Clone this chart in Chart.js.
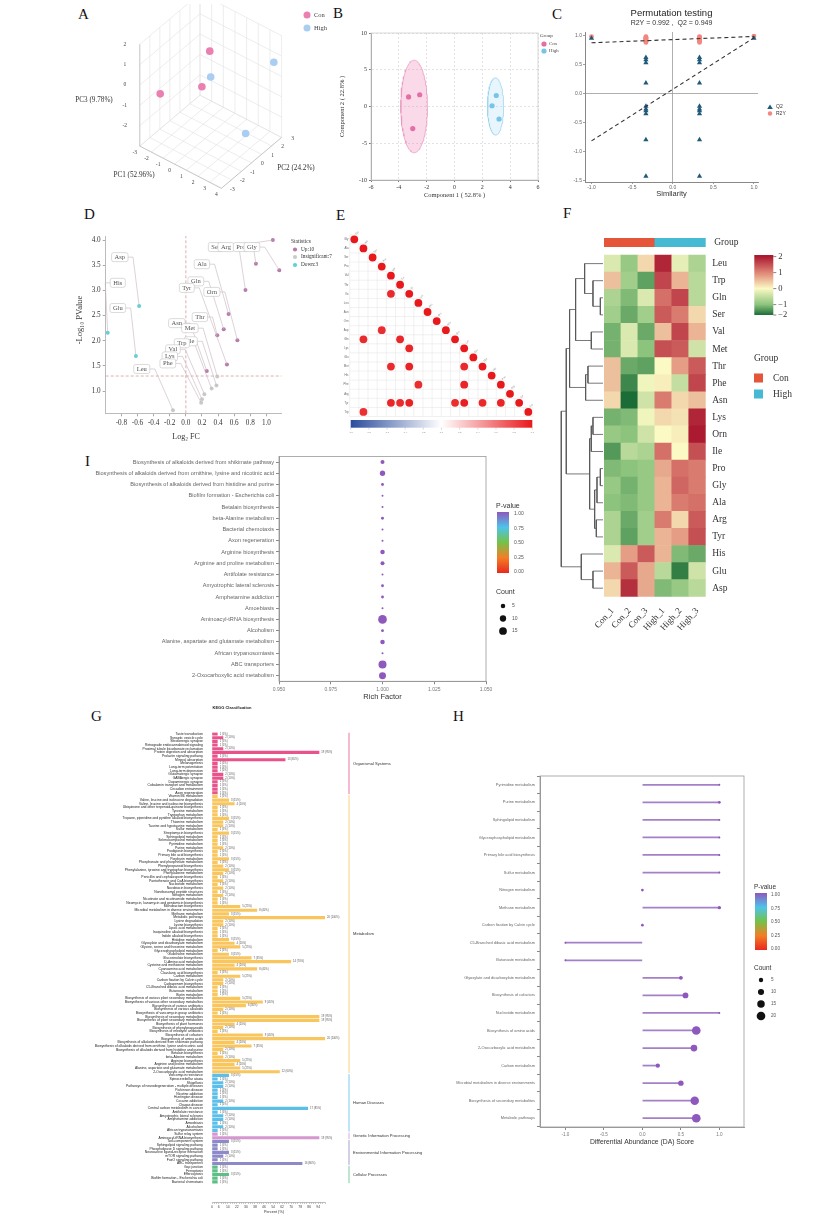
<!DOCTYPE html>
<html>
<head>
<meta charset="utf-8">
<title>Amino acid metabolomics figure</title>
<script src="https://cdn.jsdelivr.net/npm/chart.js@4.4.1/dist/chart.umd.min.js"></script>
<style>
  html, body { margin: 0; padding: 0; background: #fff; }
  body { position: relative; width: 827px; height: 1220px; overflow: hidden; }
  canvas { position: absolute; }
  .tag { position: absolute; font: 15px "Liberation Serif", "Times New Roman", serif; color: #111; }
</style>
</head>
<body>
<div class="tag" style="left:78px;top:6px">A</div>
<div class="tag" style="left:333px;top:5px">B</div>
<div class="tag" style="left:552px;top:6px">C</div>
<div class="tag" style="left:84px;top:206px">D</div>
<div class="tag" style="left:336px;top:207px">E</div>
<div class="tag" style="left:563px;top:205px">F</div>
<div class="tag" style="left:85px;top:453px">I</div>
<div class="tag" style="left:91px;top:708px">G</div>
<div class="tag" style="left:453px;top:708px">H</div>
<script>
const SERIF = '"Liberation Serif", "Times New Roman", serif';
const SANS = '"Liberation Sans", Arial, sans-serif';
Chart.defaults.animation = false;
Chart.defaults.responsive = false;
Chart.defaults.font.family = SANS;
Chart.defaults.plugins.legend.display = false;
Chart.defaults.plugins.tooltip.enabled = false;

// ---------- A: PCA scores (PC1, PC2, PC3)
const pcaCon  = [[-2.28, -1.8, -0.72], [-1.13, 1.8, 0.22], [-0.77, 0.6, -0.92]];
const pcaHigh = [[0.5, 0.0, 0.18], [3.85, 2.4, 0.9], [2.98, 0.6, -2.11]];
const pc1Ticks = [-3, -2, -1, 0, 1, 2, 3, 4];
const pc2Ticks = [-3, -2, -1, 0, 1, 2, 3];
const pc3Ticks = [-3, -2, -1, 0, 1, 2];
const pc3Labels = [-2, -1, 0, 1, 2];

// ---------- B: PLS-DA scores and confidence ellipses
const plsCon  = [[-3.3, 1.3], [-2.5, 1.6], [-3.0, -3.0]];
const plsHigh = [[2.7, 0.1], [3.0, 1.5], [3.2, -1.7]];
const ellCenter = [[-2.9, 0], [2.95, 0]];
const ellRadius = [[0.96, 6.3], [0.58, 3.9]];

// ---------- C: permutation test
const permSim = [-1.0, -0.33, -0.33, -0.33, -0.33, -0.33, -0.33, -0.33, -0.33, -0.33, -0.33,
  0.33, 0.33, 0.33, 0.33, 0.33, 0.33, 0.33, 0.33, 0.33, 0.33, 1.0];
const permR2Y = [0.98, 0.98, 0.97, 0.96, 0.95, 0.94, 0.93, 0.92, 0.91, 0.90, 0.88,
  0.98, 0.97, 0.96, 0.95, 0.94, 0.93, 0.92, 0.91, 0.90, 0.88, 0.99];
const permQ2 = [0.95, 0.62, 0.58, 0.53, 0.18, -0.22, -0.27, -0.30, -0.35, -0.80, -1.43,
  0.62, 0.58, 0.53, 0.18, -0.22, -0.27, -0.30, -0.35, -0.80, -1.43, 0.95];
const r2yFit = [[-1, 0.874], [1, 0.983]];
const q2Fit = [[-1, -0.82], [1, 0.96]];

// ---------- D: volcano
const aaNames = ['Ser', 'Arg', 'Pro', 'Gly', 'Ala', 'Gln', 'Orn', 'Tyr', 'Thr', 'Asn',
  'Met', 'Ile', 'Trp', 'Val', 'Lys', 'Phe', 'Leu', 'Asp', 'His', 'Glu'];
const log2FC = [1.08, 0.74, 0.87, 1.16, 0.53, 0.47, 0.64, 0.51, 0.39, 0.26,
  0.39, 0.38, 0.32, 0.23, 0.20, 0.19, -0.16, -0.58, -0.97, -0.62];
const negLogP = [4.00, 3.01, 3.53, 3.40, 2.53, 2.23, 2.01, 1.53, 2.11, 1.40,
  1.29, 1.11, 1.05, 0.94, 0.84, 0.77, 0.62, 2.69, 2.16, 1.70];
const fcCut = 0, pCut = 1.3;
// where each text label sits (in axis units)
const labelAt = [[0.37, 3.86], [0.497, 3.86], [0.683, 3.86], [0.82, 3.86], [0.199, 3.52],
  [0.124, 3.18], [0.323, 2.97], [0.012, 3.05], [0.174, 2.47], [-0.112, 2.35],
  [0.05, 2.25], [0.062, 1.99], [-0.05, 1.95], [-0.161, 1.83], [-0.199, 1.69],
  [-0.224, 1.55], [-0.547, 1.44], [-0.82, 3.66], [-0.845, 3.15], [-0.845, 2.65]];

// ---------- E: correlation (lower triangle, significant only)
const corrVars = ['Gly', 'Ala', 'Ser', 'Pro', 'Val', 'Thr', 'Ile', 'Leu', 'Asn', 'Orn',
  'Asp', 'Gln', 'Lys', 'Glu', 'Met', 'His', 'Phe', 'Arg', 'Tyr', 'Trp'];
const corrRow = [0, 1, 2, 3, 4, 5, 6, 7, 8, 9, 10, 11, 12, 13, 14, 15, 16, 17, 18, 19,
  6, 10, 11, 11, 12, 14, 14, 14, 16, 16, 18, 18, 18, 18, 18, 18, 18, 19];
const corrCol = [0, 1, 2, 3, 4, 5, 6, 7, 8, 9, 10, 11, 12, 13, 14, 15, 16, 17, 18, 19,
  4, 3, 1, 5, 6, 4, 6, 12, 7, 12, 4, 5, 6, 11, 12, 14, 16, 1];
const corrR = [1, 1, 1, 1, 1, 1, 1, 1, 1, 1, 1, 1, 1, 1, 1, 1, 1, 1, 1, 1,
  0.93, 0.91, 0.92, 0.94, 0.95, 0.92, 0.96, 0.93, 0.91, 0.95, 0.94, 0.92, 0.96, 0.91, 0.97, 0.93, 0.95, 0.90];
const corrBarTicks = [-1, -0.8, -0.6, -0.4, -0.2, 0, 0.2, 0.4, 0.6, 0.8, 1];

// ---------- F: heatmap (z-scores)
const heatRows = ['Leu', 'Trp', 'Gln', 'Ser', 'Val', 'Met', 'Thr', 'Phe', 'Asn', 'Lys',
  'Orn', 'Ile', 'Pro', 'Gly', 'Ala', 'Arg', 'Tyr', 'His', 'Glu', 'Asp'];
const heatSamples = ['Con_1', 'Con_2', 'Con_3', 'High_1', 'High_2', 'High_3'];
const sampleGroup = ['Con', 'Con', 'Con', 'High', 'High', 'High'];
const heatZ = [
  [-0.3, -0.9, 0.3, 1.9, -0.2, -0.7],
  [0.5, -0.8, -1.4, 1.6, 0.6, -0.6],
  [-0.7, -1.1, -0.3, 1.2, 1.6, -0.6],
  [-0.8, -1.3, -0.8, 1.4, 1.1, 0.3],
  [-1.2, -0.3, -1.3, 0.5, 1.6, 0.6],
  [-1.2, -0.3, -1.0, 1.5, 1.4, -0.4],
  [0.5, -1.3, -1.4, 0.0, 0.8, 1.4],
  [0.5, -1.7, -0.1, 0.1, -0.5, 1.6],
  [0.3, -2.0, -0.4, 1.1, 0.3, 0.5],
  [-1.2, -1.1, -0.1, 0.3, 0.2, 1.9],
  [-0.9, -1.0, -0.4, 0.0, 0.1, 2.0],
  [-1.5, -0.6, -0.7, 1.2, 0.0, 1.5],
  [-1.1, -1.0, -0.9, 0.7, 1.2, 1.1],
  [-0.9, -1.2, -0.9, 0.6, 1.3, 1.1],
  [-1.0, -1.1, -0.9, 0.6, 1.1, 1.2],
  [-0.7, -1.3, -0.8, 1.1, 0.3, 1.4],
  [-0.7, -1.4, -0.8, 0.6, 0.8, 1.5],
  [-0.3, 0.8, 1.4, 0.6, -1.1, -1.3],
  [0.6, 1.4, 0.7, -0.6, -1.8, -0.4],
  [0.3, 1.8, 0.7, -1.1, -0.9, -0.6]
];
// hclust-style merges: negative = leaf (1-based row), positive = earlier merge; third = height
const dendroMerge = [
  [-3, -4, 0.64], [-13, -14, 0.64], [2, -15, 1.44], [-16, -17, 1.6], [3, 4, 2.0],
  [-2, 1, 2.4], [-10, -11, 2.4], [-19, -20, 2.4], [-5, -6, 2.8], [7, -12, 2.8],
  [10, 5, 3.2], [-7, -8, 3.6], [12, -9, 4.16], [-1, 6, 4.4], [-18, 8, 5.2],
  [14, 9, 6.56], [16, 13, 8.0], [17, 11, 8.8], [18, 15, 10]
];
const heatLegendTicks = [2, 1, 0, -1, -2];

// ---------- I: KEGG enrichment bubbles
const iPaths = ['Biosynthesis of alkaloids derived from shikimate pathway',
  'Biosynthesis of alkaloids derived from ornithine, lysine and nicotinic acid',
  'Biosynthesis of alkaloids derived from histidine and purine',
  'Biofilm formation - Escherichia coli', 'Betalain biosynthesis', 'beta-Alanine metabolism',
  'Bacterial chemotaxis', 'Axon regeneration', 'Arginine biosynthesis', 'Arginine and proline metabolism',
  'Antifolate resistance', 'Amyotrophic lateral sclerosis', 'Amphetamine addiction', 'Amoebiasis',
  'Aminoacyl-tRNA biosynthesis', 'Alcoholism', 'Alanine, aspartate and glutamate metabolism',
  'African trypanosomiasis', 'ABC transporters', '2-Oxocarboxylic acid metabolism'];
const iRich = [1, 1, 1, 1, 1, 1, 1, 1, 1, 1, 1, 1, 1, 1, 1, 1, 1, 1, 1, 1];
const iCount = [4, 7, 2, 1, 1, 2, 1, 1, 5, 4, 1, 2, 2, 1, 19, 2, 5, 1, 16, 12];
const iP = [1, 1, 1, 1, 1, 1, 1, 1, 1, 1, 1, 1, 1, 1, 1, 1, 1, 1, 1, 1];
const iCountLegend = [5, 10, 15];

// ---------- G: KEGG classification
const gPaths = [
  // Organismal Systems
  'Taste transduction', 'Synaptic vesicle cycle', 'Serotonergic synapse', 'Retrograde endocannabinoid signaling',
  'Proximal tubule bicarbonate reclamation', 'Protein digestion and absorption', 'Prolactin signaling pathway',
  'Mineral absorption', 'Melanogenesis', 'Long-term potentiation', 'Long-term depression', 'Glutamatergic synapse',
  'GABAergic synapse', 'Dopaminergic synapse', 'Cobalamin transport and metabolism', 'Circadian entrainment',
  'Axon regeneration',
  // Metabolism
  'Vitamin B6 metabolism', 'Valine, leucine and isoleucine degradation', 'Valine, leucine and isoleucine biosynthesis',
  'Ubiquinone and other terpenoid-quinone biosynthesis', 'Tyrosine metabolism', 'Tryptophan metabolism',
  'Tropane, piperidine and pyridine alkaloid biosynthesis', 'Thiamine metabolism', 'Taurine and hypotaurine metabolism',
  'Sulfur metabolism', 'Streptomycin biosynthesis', 'Sphingolipid metabolism', 'Selenocompound metabolism',
  'Pyrimidine metabolism', 'Purine metabolism', 'Prodigiosin biosynthesis', 'Primary bile acid biosynthesis',
  'Porphyrin metabolism', 'Phosphonate and phosphinate metabolism', 'Phenylpropanoid biosynthesis',
  'Phenylalanine, tyrosine and tryptophan biosynthesis', 'Phenylalanine metabolism',
  'Penicillin and cephalosporin biosynthesis', 'Pantothenate and CoA biosynthesis', 'Nucleotide metabolism',
  'Novobiocin biosynthesis', 'Nonribosomal peptide structures', 'Nitrogen metabolism',
  'Nicotinate and nicotinamide metabolism', 'Neomycin, kanamycin and gentamicin biosynthesis',
  'Monobactam biosynthesis', 'Microbial metabolism in diverse environments', 'Methane metabolism',
  'Metabolic pathways', 'Lysine degradation', 'Lysine biosynthesis', 'Lipoic acid metabolism',
  'Isoquinoline alkaloid biosynthesis', 'Indole alkaloid biosynthesis', 'Histidine metabolism',
  'Glyoxylate and dicarboxylate metabolism', 'Glycine, serine and threonine metabolism',
  'Glycerophospholipid metabolism', 'Glutathione metabolism', 'Glucosinolate biosynthesis',
  'D-Amino acid metabolism', 'Cysteine and methionine metabolism', 'Cyanoamino acid metabolism',
  'Clavulanic acid biosynthesis', 'Carbon metabolism', 'Carbon fixation by Calvin cycle', 'Carbapenem biosynthesis',
  'C5-Branched dibasic acid metabolism', 'Butanoate metabolism', 'Biotin metabolism',
  'Biosynthesis of various plant secondary metabolites', 'Biosynthesis of various other secondary metabolites',
  'Biosynthesis of various antibiotics', 'Biosynthesis of various alkaloids',
  'Biosynthesis of vancomycin group antibiotics', 'Biosynthesis of secondary metabolites',
  'Biosynthesis of plant secondary metabolites', 'Biosynthesis of plant hormones',
  'Biosynthesis of phenylpropanoids', 'Biosynthesis of enediyne antibiotics', 'Biosynthesis of cofactors',
  'Biosynthesis of amino acids', 'Biosynthesis of alkaloids derived from shikimate pathway',
  'Biosynthesis of alkaloids derived from ornithine, lysine and nicotinic acid',
  'Biosynthesis of alkaloids derived from histidine and purine', 'Betalain biosynthesis', 'beta-Alanine metabolism',
  'Arginine biosynthesis', 'Arginine and proline metabolism', 'Alanine, aspartate and glutamate metabolism',
  '2-Oxocarboxylic acid metabolism',
  // Human Diseases
  'Vancomycin resistance', 'Spinocerebellar ataxia', 'Shigellosis', 'Pathways of neurodegeneration - multiple diseases',
  'Parkinson disease', 'Nicotine addiction', 'Huntington disease', 'Cocaine addiction', 'Chagas disease',
  'Central carbon metabolism in cancer', 'Antifolate resistance', 'Amyotrophic lateral sclerosis',
  'Amphetamine addiction', 'Amoebiasis', 'Alcoholism', 'African trypanosomiasis',
  // Genetic Information Processing
  'Sulfur relay system', 'Aminoacyl-tRNA biosynthesis',
  // Environmental Information Processing
  'Two-component system', 'Sphingolipid signaling pathway', 'Phospholipase D signaling pathway',
  'Neuroactive ligand-receptor interaction', 'mTOR signaling pathway', 'FoxO signaling pathway', 'ABC transporters',
  // Cellular Processes
  'Gap junction', 'Ferroptosis', 'Efferocytosis', 'Biofilm formation - Escherichia coli', 'Bacterial chemotaxis'
];
const gCounts = [
  1, 2, 1, 1, 2, 19, 1, 13, 1, 1, 1, 2, 2, 1, 1, 1, 1,
  1, 3, 4, 1, 1, 1, 3, 2, 2, 1, 3, 1, 1, 1, 2, 1, 1, 3, 1, 2, 3, 2, 1, 2, 1, 2, 1, 2, 1, 1,
  5, 8, 3, 20, 2, 2, 1, 1, 1, 3, 4, 5, 1, 3, 7, 14, 4, 8, 1, 5, 2, 2, 1, 1, 1,
  5, 9, 6, 2, 1, 19, 19, 4, 2, 1, 9, 20, 4, 7, 2, 1, 2, 5, 4, 5, 12,
  3, 1, 2, 2, 1, 1, 1, 2, 1, 17, 1, 2, 2, 1, 2, 1,
  1, 19,
  3, 1, 1, 3, 2, 1, 16,
  1, 1, 3, 1, 1
];
const gTotal = 20;
const gClassNames = ['Organismal Systems', 'Metabolism', 'Human Diseases', 'Genetic Information Processing',
  'Environmental Information Processing', 'Cellular Processes'];
const gClassSize = [17, 76, 16, 2, 7, 5];
const gClassColor = ['#e9538b', '#f9c65e', '#5cbfe9', '#d597cf', '#8e89c8', '#5dbf86'];
const gTickLabels = [0, 6, 14, 22, 30, 38, 46, 54, 62, 70, 78, 86, 94];

// ---------- H: differential abundance score
const hPaths = ['Pyrimidine metabolism', 'Purine metabolism', 'Sphingolipid metabolism',
  'Glycerophospholipid metabolism', 'Primary bile acid biosynthesis', 'Sulfur metabolism',
  'Nitrogen metabolism', 'Methane metabolism', 'Carbon fixation by Calvin cycle',
  'C5-Branched dibasic acid metabolism', 'Butanoate metabolism', 'Glyoxylate and dicarboxylate metabolism',
  'Biosynthesis of cofactors', 'Nucleotide metabolism', 'Biosynthesis of amino acids',
  '2-Oxocarboxylic acid metabolism', 'Carbon metabolism', 'Microbial metabolism in diverse environments',
  'Biosynthesis of secondary metabolites', 'Metabolic pathways'];
const hScore = [1, 1, 1, 1, 1, 1, 0, 1, 0, -1, -1, 0.5, 0.56, 1, 0.7, 0.67, 0.2, 0.5, 0.68, 0.7];
const hCount = [1, 2, 1, 1, 1, 1, 2, 3, 2, 1, 1, 4, 9, 1, 20, 12, 5, 8, 19, 20];
const hP = [1, 1, 1, 1, 1, 1, 1, 1, 1, 1, 1, 1, 1, 1, 1, 1, 1, 1, 1, 1];
const hCountLegend = [5, 10, 15, 20];
const pLegendTicks = [1.0, 0.75, 0.5, 0.25, 0.0];

// ---------- colour scales
const pStops = [[0, '#e8291f'], [0.25, '#f47d27'], [0.5, '#74c247'], [0.75, '#4dc4ea'], [1, '#8e58bd']];
const corrStops = [[-1, '#2a4c9c'], [0, '#ffffff'], [1, '#e8191c']];
const heatStops = [[-2, '#1b6d37'], [-1, '#8cc37d'], [0, '#fbf9c4'], [1, '#df8676'], [2, '#ab1a30']];
const groupColor = { Con: '#e4553a', High: '#46b9d3' };

// ---------- helpers
function mk(x, y, w, h) {
  const c = document.createElement('canvas');
  c.width = w; c.height = h;
  c.style.left = x + 'px'; c.style.top = y + 'px';
  c.style.width = w + 'px'; c.style.height = h + 'px';
  document.body.appendChild(c);
  return c;
}
function txt(g, s, x, y, o = {}) {
  g.save();
  g.font = (o.weight || 'normal') + ' ' + (o.size || 7) + 'px ' + (o.family || SANS);
  g.fillStyle = o.color || '#333';
  g.textAlign = o.align || 'left';
  g.textBaseline = o.base || 'middle';
  g.translate(x, y);
  if (o.rot) g.rotate(o.rot);
  g.fillText(s, 0, 0);
  g.restore();
}
function hex2rgb(h) { const n = parseInt(h.slice(1), 16); return [n >> 16 & 255, n >> 8 & 255, n & 255]; }
function ramp(stops, v) {
  if (v <= stops[0][0]) return stops[0][1];
  for (let i = 1; i < stops.length; i++) {
    if (v <= stops[i][0]) {
      const [a, ca] = stops[i - 1], [b, cb] = stops[i], t = (v - a) / (b - a);
      const A = hex2rgb(ca), B = hex2rgb(cb);
      return 'rgb(' + A.map((x, k) => Math.round(x + (B[k] - x) * t)).join(',') + ')';
    }
  }
  return stops[stops.length - 1][1];
}
function gradBar(g, stops, x, y, w, h, vertical, lo, hi) {
  const gr = vertical ? g.createLinearGradient(0, y + h, 0, y) : g.createLinearGradient(x, 0, x + w, 0);
  stops.forEach(([v, c]) => gr.addColorStop(Math.min(1, Math.max(0, (v - lo) / (hi - lo))), c));
  g.fillStyle = gr; g.fillRect(x, y, w, h);
}
// fixes the plot rectangle inside a canvas of W x H
function area(W, H, l, t, r, b) {
  return {
    padding: { left: 0, top: t, right: W - r, bottom: 0 },
    fx: s => { s.height = H - b; },
    fy: s => { s.width = l; }
  };
}
const boxPlugin = col => ({
  id: 'panelBox',
  afterDraw(c) {
    const a = c.chartArea, g = c.ctx;
    g.save(); g.strokeStyle = col; g.lineWidth = 0.8;
    g.strokeRect(a.left, a.top, a.right - a.left, a.bottom - a.top);
    g.restore();
  }
});
function dot(g, x, y, r, col) { g.save(); g.fillStyle = col; g.beginPath(); g.arc(x, y, r, 0, Math.PI * 2); g.fill(); g.restore(); }

// ================= A =================
(() => {
  const W = 280, H = 200;
  const a0 = pc1Ticks[0], a1 = pc1Ticks[pc1Ticks.length - 1];
  const b0 = pc2Ticks[0], b1 = pc2Ticks[pc2Ticks.length - 1];
  const c0 = pc3Ticks[0], c1 = pc3Ticks[pc3Ticks.length - 1];
  // oblique view of the 3D box
  const P = (a, b, c) => {
    const u = (a - a0) / (a1 - a0), v = (b - b0) / (b1 - b0), w = (c - c0) / (c1 - c0);
    return { x: 78 + 84 * u + 62 * v, y: 148 + 44 * u - 53 * v - 106 * w };
  };
  const segs = [];
  pc1Ticks.forEach(t => segs.push([P(t, b0, c0), P(t, b1, c0)], [P(t, b1, c0), P(t, b1, c1)]));
  pc2Ticks.forEach(t => segs.push([P(a0, t, c0), P(a1, t, c0)], [P(a0, t, c0), P(a0, t, c1)]));
  pc3Ticks.forEach(t => segs.push([P(a0, b0, t), P(a0, b1, t)], [P(a0, b1, t), P(a1, b1, t)]));
  const edges = [[P(a0, b0, c0), P(a1, b0, c0)], [P(a1, b0, c0), P(a1, b1, c0)], [P(a0, b0, c0), P(a0, b0, c1)]];
  const line = (d, col, w) => ({ data: d, showLine: true, borderColor: col, borderWidth: w, pointRadius: 0 });
  new Chart(mk(60, 0, W, H), {
    type: 'scatter',
    data: { datasets: [
      { data: pcaCon.map(p => P(...p)), pointRadius: 3.8, backgroundColor: '#ea7fb0', borderWidth: 0 },
      { data: pcaHigh.map(p => P(...p)), pointRadius: 3.8, backgroundColor: '#a9cef2', borderWidth: 0 },
      ...edges.map(s => line(s, '#b8b8b8', 0.7)),
      ...segs.map(s => line(s, '#e0e0e0', 0.6))
    ]},
    options: {
      layout: { padding: 0 },
      scales: { x: { display: false, min: 0, max: W }, y: { display: false, min: 0, max: H, reverse: true } }
    },
    plugins: [{
      id: 'pcaText',
      afterDraw(c) {
        const g = c.ctx, X = v => c.scales.x.getPixelForValue(v), Y = v => c.scales.y.getPixelForValue(v);
        const o = { family: SERIF, size: 5.5, color: '#444', align: 'center' };
        pc1Ticks.forEach(t => { const p = P(t, b0, c0); txt(g, String(t), X(p.x) - 5, Y(p.y) + 6, o); });
        pc2Ticks.forEach(t => { const p = P(a1, t, c0); txt(g, String(t), X(p.x) + 11, Y(p.y) + 1, o); });
        pc3Labels.forEach(t => { const p = P(a0, b0, t); txt(g, String(t), X(p.x) - 15, Y(p.y), o); });
        const t = { family: SERIF, size: 7.2, color: '#333', align: 'center' };
        txt(g, 'PC3 (9.78%)', 34, 100, t);
        txt(g, 'PC1 (52.96%)', 74, 175, t);
        txt(g, 'PC2 (24.2%)', 236, 168, t);
        const ds = c.data.datasets;
        [['Con', ds[0].backgroundColor, 15], ['High', ds[1].backgroundColor, 28]].forEach(([s, col, y]) => {
          dot(g, 247, y, 3.5, col);
          txt(g, s, 254, y, { family: SERIF, size: 6.5, color: '#444' });
        });
      }
    }]
  });
})();

// ================= B =================
(() => {
  const W = 245, H = 200, A = area(W, H, 41, 33, 208, 180);
  const ellipse = k => {
    const pts = [];
    for (let i = 0; i <= 90; i++) {
      const t = i / 90 * 2 * Math.PI;
      pts.push({ x: ellCenter[k][0] + ellRadius[k][0] * Math.cos(t), y: ellCenter[k][1] + ellRadius[k][1] * Math.sin(t) });
    }
    return pts;
  };
  const tk = { font: { family: SERIF, size: 6 }, color: '#333', padding: 2 };
  const grid = { color: '#e3e3e3', tickColor: '#777', tickLength: 2 };
  new Chart(mk(330, 0, W, H), {
    type: 'scatter',
    data: { datasets: [
      { data: plsCon.map(([x, y]) => ({ x, y })), pointRadius: 2.6, backgroundColor: '#e46fa6', borderWidth: 0 },
      { data: plsHigh.map(([x, y]) => ({ x, y })), pointRadius: 2.6, backgroundColor: '#74c5e9', borderWidth: 0 },
      { data: ellipse(0), showLine: true, fill: 'shape', backgroundColor: 'rgba(236,120,175,0.28)', borderColor: '#e893bb', borderWidth: 0.7, pointRadius: 0 },
      { data: ellipse(1), showLine: true, fill: 'shape', backgroundColor: 'rgba(150,210,240,0.22)', borderColor: '#95d2ec', borderWidth: 0.7, pointRadius: 0 }
    ]},
    options: {
      layout: { padding: A.padding },
      scales: {
        x: { min: -6, max: 6, afterFit: A.fx, ticks: { ...tk, stepSize: 2 }, grid, border: { color: '#999', dash: [2, 2] } },
        y: { min: -10, max: 10, afterFit: A.fy, ticks: { ...tk, stepSize: 5 }, grid, border: { color: '#999', dash: [2, 2] } }
      }
    },
    plugins: [boxPlugin('#d0d0d0'), {
      id: 'plsText',
      afterDraw(c) {
        const g = c.ctx, a = c.chartArea;
        txt(g, 'Component 1 ( 52.8% )', (a.left + a.right) / 2, 195, { family: SERIF, size: 6.5, align: 'center' });
        txt(g, 'Component 2 ( 22.8% )', 12, (a.top + a.bottom) / 2, { family: SERIF, size: 6.5, align: 'center', rot: -Math.PI / 2 });
        txt(g, 'Group', 210, 36, { family: SERIF, size: 5, color: '#444' });
        const ds = c.data.datasets;
        [['Con', ds[0].backgroundColor, 44], ['High', ds[1].backgroundColor, 51]].forEach(([s, col, y]) => {
          dot(g, 214, y, 2.6, col);
          txt(g, s, 219, y, { family: SERIF, size: 4.8, color: '#444' });
        });
      }
    }]
  });
})();

// ================= C =================
(() => {
  const W = 262, H = 200, A = area(W, H, 20, 32, 193, 182);
  const zeroGrid = { color: c => (c.tick && c.tick.value === 0 ? '#9a9a9a' : 'rgba(0,0,0,0)'), tickColor: '#888', tickLength: 2, lineWidth: 0.8 };
  const tk = { font: { size: 5 }, color: '#666', padding: 1, includeBounds: false, stepSize: 0.5, callback: v => v.toFixed(1) };
  const fitLine = f => ({ data: f.map(([x, y]) => ({ x, y })), showLine: true, borderColor: '#333', borderWidth: 1.1, borderDash: [4, 3], pointRadius: 0 });
  new Chart(mk(565, 0, W, H), {
    type: 'scatter',
    data: { datasets: [
      fitLine(r2yFit), fitLine(q2Fit),
      { data: permSim.map((x, i) => ({ x, y: permQ2[i] })), pointStyle: 'triangle', pointRadius: 3, backgroundColor: '#1f5a7a', borderWidth: 0 },
      { data: permSim.map((x, i) => ({ x, y: permR2Y[i] })), pointRadius: 2.4, backgroundColor: '#f2877e', borderWidth: 0 }
    ]},
    options: {
      layout: { padding: A.padding },
      scales: {
        x: { min: -1.08, max: 1.05, afterFit: A.fx, ticks: tk, grid: zeroGrid, border: { color: '#888' } },
        y: { min: -1.53, max: 1.06, afterFit: A.fy, ticks: tk, grid: zeroGrid, border: { color: '#888' } }
      }
    },
    plugins: [{
      id: 'permText',
      afterDraw(c) {
        const g = c.ctx, a = c.chartArea, cx = (a.left + a.right) / 2;
        txt(g, 'Permutation testing', cx, 13, { size: 9.5, color: '#222', align: 'center' });
        txt(g, 'R2Y = 0.992 ,  Q2 = 0.949', cx, 23, { size: 7, color: '#333', align: 'center' });
        txt(g, 'Similarity', cx, 193.5, { size: 7.5, color: '#333', align: 'center' });
        g.save(); g.fillStyle = '#1f5a7a'; g.beginPath();
        g.moveTo(205, 104.5); g.lineTo(207.8, 109); g.lineTo(202.2, 109); g.closePath(); g.fill(); g.restore();
        txt(g, 'Q2', 211, 107, { size: 5, color: '#333' });
        dot(g, 205, 113.5, 2.2, '#f2877e');
        txt(g, 'R2Y', 211, 113.5, { size: 5, color: '#333' });
      }
    }]
  });
})();

// ================= D =================
(() => {
  const W = 280, H = 245, A = area(W, H, 45.7, 36, 221.7, 213.3);
  const xMin = -0.995, xMax = 1.19, yMin = 0.56, yMax = 4.08;
  const status = log2FC.map((fc, i) => negLogP[i] > pCut ? (fc > fcCut ? 'up' : 'down') : 'ns');
  const col = { up: '#b97aa9', ns: '#cacaca', down: '#5fd0d6' };
  const tk = { font: { family: SERIF, size: 7.2 }, color: '#333', padding: 2, includeBounds: false, callback: v => v.toFixed(1) };
  const grid = { drawOnChartArea: false, tickLength: 3, tickColor: '#aaa' };
  const cut = d => ({ data: d, showLine: true, borderColor: '#d99a9a', borderDash: [3, 2], borderWidth: 0.8, pointRadius: 0 });
  new Chart(mk(60, 200, W, H), {
    type: 'scatter',
    data: { datasets: [
      { data: log2FC.map((x, i) => ({ x, y: negLogP[i] })), pointRadius: 2, backgroundColor: status.map(s => col[s]), borderWidth: 0 },
      cut([{ x: fcCut, y: yMin }, { x: fcCut, y: yMax }]),
      cut([{ x: xMin, y: pCut }, { x: xMax, y: pCut }])
    ]},
    options: {
      layout: { padding: A.padding },
      scales: {
        x: { min: xMin, max: xMax, afterFit: A.fx, ticks: { ...tk, stepSize: 0.2 }, grid, border: { color: '#bbb' } },
        y: { min: yMin, max: yMax, afterFit: A.fy, ticks: { ...tk, stepSize: 0.5 }, grid, border: { color: '#bbb' } }
      }
    },
    plugins: [{
      id: 'volcanoText',
      afterDraw(c) {
        const g = c.ctx, X = c.scales.x, Y = c.scales.y;
        g.save();
        g.font = '6.5px ' + SERIF;
        const boxes = aaNames.map((s, i) => ({
          s, w: g.measureText(s).width + 6, h: 9,
          x: X.getPixelForValue(labelAt[i][0]), y: Y.getPixelForValue(labelAt[i][1]),
          px: X.getPixelForValue(log2FC[i]), py: Y.getPixelForValue(negLogP[i])
        }));
        g.strokeStyle = '#c6b3bf'; g.lineWidth = 0.6;
        boxes.forEach(b => {
          const side = b.px >= b.x ? 1 : -1, ex = b.x + side * b.w / 2;
          g.beginPath(); g.moveTo(ex, b.y); g.lineTo(ex + side * 5, b.y); g.lineTo(b.px, b.py); g.stroke();
        });
        boxes.forEach(b => {
          g.beginPath(); g.roundRect(b.x - b.w / 2, b.y - b.h / 2, b.w, b.h, 2);
          g.fillStyle = '#fff'; g.fill(); g.strokeStyle = '#c2c2c2'; g.lineWidth = 0.6; g.stroke();
          g.fillStyle = '#555'; g.textAlign = 'center'; g.textBaseline = 'middle'; g.fillText(b.s, b.x, b.y + 0.3);
        });
        g.restore();
        const n = k => status.filter(s => s === k).length;
        txt(g, 'Statistics', 231, 42, { family: SERIF, size: 5.5, color: '#333' });
        [['up', 'Up:' + n('up'), 49.5], ['ns', 'Insignificant:' + n('ns'), 57], ['down', 'Down:' + n('down'), 65]].forEach(([k, s, y]) => {
          dot(g, 235, y, 2.1, col[k]);
          txt(g, s, 241, y, { family: SERIF, size: 5.3, color: '#333' });
        });
        txt(g, '-Log\u2081\u2080 PValue', 20, 120, { family: SERIF, size: 8.5, align: 'center', rot: -Math.PI / 2 });
        txt(g, 'Log\u2082 FC', 126, 237, { family: SERIF, size: 8, align: 'center' });
      }
    }]
  });
})();

// ================= E =================
(() => {
  const W = 200, H = 220, n = corrVars.length;
  new Chart(mk(340, 215, W, H), {
    type: 'scatter',
    data: { datasets: [{
      data: corrRow.map((r, k) => ({ x: corrCol[k], y: r })), pointRadius: 3.9,
      backgroundColor: corrR.map(v => ramp(corrStops, v)), borderWidth: 0
    }]},
    options: {
      layout: { padding: { left: 9.7, top: 19.8, right: 7.1, bottom: 18.5 } },
      scales: { x: { display: false, min: -0.5, max: n - 0.5 }, y: { display: false, min: -0.5, max: n - 0.5, reverse: true } }
    },
    plugins: [{
      id: 'corrDecor',
      beforeDatasetsDraw(c) {
        const g = c.ctx, X = c.scales.x, Y = c.scales.y;
        g.save(); g.strokeStyle = '#e3e3e3'; g.lineWidth = 0.5; g.beginPath();
        for (let k = 0; k <= n; k++) {
          const yy = Y.getPixelForValue(k - 0.5);
          g.moveTo(X.getPixelForValue(-0.5), yy); g.lineTo(X.getPixelForValue(Math.min(k, n - 1) + 0.5), yy);
          const xx = X.getPixelForValue(k - 0.5);
          g.moveTo(xx, Y.getPixelForValue(Math.min(k, n - 1) - 0.5)); g.lineTo(xx, Y.getPixelForValue(n - 0.5));
        }
        g.stroke(); g.restore();
      },
      afterDraw(c) {
        const g = c.ctx, X = c.scales.x, Y = c.scales.y;
        corrVars.forEach((v, k) => {
          txt(g, v, X.getPixelForValue(-0.5) - 1.2, Y.getPixelForValue(k), { size: 2.8, color: '#666', align: 'right' });
          txt(g, v, X.getPixelForValue(k) + 1.5, Y.getPixelForValue(k) - 5, { size: 2.6, color: '#888', rot: -Math.PI / 4 });
        });
        const x0 = X.getPixelForValue(-0.5) + 1, x1 = X.getPixelForValue(n - 0.5) - 0.6;
        gradBar(g, corrStops, x0, 205, x1 - x0, 7.7, false, -1, 1);
        corrBarTicks.forEach(t => {
          const x = x0 + (t + 1) / 2 * (x1 - x0);
          g.save(); g.strokeStyle = '#999'; g.lineWidth = 0.4; g.beginPath(); g.moveTo(x, 212.7); g.lineTo(x, 214.5); g.stroke(); g.restore();
          txt(g, t.toFixed(1), x, 217, { size: 2.5, color: '#888', align: 'center' });
        });
      }
    }]
  });
})();

// ================= F (heatmap + dendrogram) =================
(() => {
  const W = 287, H = 430;
  const rows = heatRows.length, yMax = rows + 1;
  new Chart(mk(540, 200, W, H), {
    type: 'bar',
    data: {
      labels: heatSamples,
      datasets: [
        ...heatRows.map((r, k) => ({ data: heatSamples.map(() => 1), backgroundColor: heatZ[k].map(v => ramp(heatStops, v)) })).reverse(),
        { data: heatSamples.map(() => 0.49), backgroundColor: 'rgba(0,0,0,0)' },
        { data: heatSamples.map(() => 0.51), backgroundColor: sampleGroup.map(s => groupColor[s]) }
      ]
    },
    options: {
      layout: { padding: { left: 64, top: 38, right: W - 165.7, bottom: 0 } },
      datasets: { bar: { barPercentage: 1, categoryPercentage: 1, borderWidth: 0 } },
      scales: {
        x: { stacked: true, afterFit: s => { s.height = H - 396.7; }, grid: { display: false }, border: { display: false },
             ticks: { font: { family: SERIF, size: 9 }, color: '#333', minRotation: 48, maxRotation: 48, padding: 1, autoSkip: false } },
        y: { stacked: true, min: 0, max: yMax, display: false }
      }
    },
    plugins: [{
      id: 'heatText',
      afterDraw(c) {
        const g = c.ctx, Y = c.scales.y, a = c.chartArea;
        heatRows.forEach((r, k) => txt(g, r, a.right + 6.5, Y.getPixelForValue(rows - k - 0.5), { family: SERIF, size: 9.5, color: '#333' }));
        txt(g, 'Group', a.right + 8.5, Y.getPixelForValue(yMax - 0.255), { family: SERIF, size: 9.5, color: '#333' });
        // colour key
        const top = 255 - 200, bot = 315 - 200, lo = -1.65, hi = 2.1, bx = 214.3;
        gradBar(g, heatStops, bx, top, 19, bot - top, true, lo, hi);
        heatLegendTicks.forEach(t => {
          const y = Math.min(bot, top + (hi - t) / (hi - lo) * (bot - top));
          g.save(); g.strokeStyle = '#333'; g.lineWidth = 0.6; g.beginPath(); g.moveTo(bx + 19, y); g.lineTo(bx + 22, y); g.stroke(); g.restore();
          txt(g, String(t).replace('-', '\u2212'), bx + 24, y, { family: SERIF, size: 8.5, color: '#333' });
        });
        txt(g, 'Group', 214, 158, { family: SERIF, size: 9.5, color: '#333' });
        [['Con', 178], ['High', 194]].forEach(([s, y]) => {
          g.fillStyle = groupColor[s]; g.fillRect(214, y - 4.5, 9, 9);
          txt(g, s, 233, y, { family: SERIF, size: 9.5, color: '#333' });
        });
      }
    }]
  });

  // dendrogram on the same row scale
  const leafY = k => rows - k - 0.5;
  const nodes = [], links = [];
  dendroMerge.forEach(([a, b, h]) => {
    const ca = a < 0 ? { h: 0, y: leafY(-a - 1) } : nodes[a - 1];
    const cb = b < 0 ? { h: 0, y: leafY(-b - 1) } : nodes[b - 1];
    links.push([{ x: ca.h, y: ca.y }, { x: h, y: ca.y }, { x: h, y: cb.y }, { x: cb.h, y: cb.y }]);
    nodes.push({ h, y: (ca.y + cb.y) / 2 });
  });
  new Chart(mk(555, 200, 50, H), {
    type: 'scatter',
    data: { datasets: links.map(d => ({ data: d, showLine: true, borderColor: '#555', borderWidth: 0.8, pointRadius: 0 })) },
    options: {
      layout: { padding: { left: 5, top: 38, right: 2, bottom: H - 396.7 } },
      scales: { x: { display: false, min: 0, max: 10.3, reverse: true }, y: { display: false, min: 0, max: yMax } }
    }
  });
})();

// ================= I =================
(() => {
  const W = 450, H = 268, A = area(W, H, 187, 11.4, 394, 236.3);
  const size = cnt => Math.sqrt(cnt) * 1.0;
  const grid = { drawOnChartArea: false, tickLength: 3, tickColor: '#888' };
  new Chart(mk(92, 445, W, H), {
    type: 'bubble',
    data: { datasets: [{
      data: iPaths.map((p, k) => ({ x: iRich[k], y: p, r: size(iCount[k]) })),
      backgroundColor: iP.map(v => ramp(pStops, v)), borderWidth: 0
    }]},
    options: {
      layout: { padding: A.padding },
      scales: {
        x: { type: 'linear', min: 0.95, max: 1.05, afterFit: A.fx, grid, border: { color: '#999' },
             ticks: { stepSize: 0.025, font: { size: 5 }, color: '#777', padding: 2, callback: v => v.toFixed(3) } },
        y: { type: 'category', labels: iPaths, offset: true, afterFit: A.fy, grid, border: { color: '#999' },
             ticks: { font: { size: 5.6 }, color: '#666', autoSkip: false, padding: 2 } }
      }
    },
    plugins: [boxPlugin('#999'), {
      id: 'iLegend',
      afterDraw(c) {
        const g = c.ctx, a = c.chartArea;
        txt(g, 'Rich Factor', (a.left + a.right) / 2, 252, { size: 7.5, color: '#333', align: 'center' });
        txt(g, 'P-value', 404, 61, { size: 7, color: '#333' });
        gradBar(g, pStops, 405, 67, 12, 61, true, 0, 1);
        pLegendTicks.forEach(t => txt(g, t.toFixed(2), 422, 69 + (1 - t) * 58, { size: 5, color: '#555' }));
        txt(g, 'Count', 404, 147, { size: 7, color: '#333' });
        iCountLegend.forEach((v, k) => {
          const y = 161 + k * 12.5;
          dot(g, 411, y, size(v), '#111');
          txt(g, String(v), 420, y, { size: 5, color: '#555' });
        });
      }
    }]
  });
})();

// ================= G =================
(() => {
  const W = 480, H = 520, A = area(W, H, 152, 32.2, 265, 502);
  const rowClass = [];
  gClassSize.forEach((n, k) => { for (let i = 0; i < n; i++) rowClass.push(k); });
  const pct = gCounts.map(v => v / gTotal * 100);
  const minorTicks = [];
  for (let v = 0; v <= 100; v += 2) minorTicks.push(v);
  new Chart(mk(60, 700, W, H), {
    type: 'bar',
    data: {
      labels: gPaths.concat(['', '', '', '', '']),
      datasets: [{ data: pct, backgroundColor: rowClass.map(k => gClassColor[k]), barPercentage: 0.86, categoryPercentage: 1 }]
    },
    options: {
      indexAxis: 'y',
      layout: { padding: A.padding },
      scales: {
        x: { type: 'linear', min: 0, max: 100, afterFit: A.fx,
             afterBuildTicks: s => { s.ticks = minorTicks.map(v => ({ value: v })); },
             ticks: { autoSkip: false, maxRotation: 0, font: { size: 3.4 }, color: '#444', padding: 1,
                      callback: v => gTickLabels.includes(v) ? String(v) : '' },
             grid: { drawOnChartArea: false, tickLength: 2, tickColor: '#777', lineWidth: 0.4 },
             border: { color: '#777', width: 0.5 } },
        y: { type: 'category', afterFit: A.fy, ticks: { autoSkip: false, font: { size: 3.4 }, color: '#222', padding: 1 },
             grid: { display: false }, border: { display: false } }
      }
    },
    plugins: [{
      id: 'keggText',
      afterDatasetsDraw(c) {
        const g = c.ctx, Y = c.scales.y, meta = c.getDatasetMeta(0);
        meta.data.forEach((bar, i) => txt(g, gCounts[i] + ' (' + Math.round(pct[i]) + '%)', bar.x + 2, bar.y, { size: 2.7, color: '#555' }));
        let s = 0;
        gClassSize.forEach((n, k) => {
          const y1 = Y.getPixelForValue(s) - 1.3, y2 = Y.getPixelForValue(s + n - 1) + 1.3;
          g.save(); g.strokeStyle = gClassColor[k]; g.lineWidth = 0.8; g.beginPath(); g.moveTo(289, y1); g.lineTo(289, y2); g.stroke(); g.restore();
          txt(g, gClassNames[k], 293, (y1 + y2) / 2, { size: 4.1, color: '#333' });
          s += n;
        });
        txt(g, 'KEGG Classification', 172, 8, { size: 4, weight: 'bold', color: '#222', align: 'center' });
        txt(g, 'Percent (%)', 214, 512, { size: 3.8, color: '#333', align: 'center' });
      }
    }]
  });
})();

// ================= H =================
(() => {
  const W = 427, H = 445, A = area(W, H, 140, 61, 344, 412);
  const size = cnt => Math.sqrt(cnt) * 0.97;
  const grid = { drawOnChartArea: false, tickLength: 3, tickColor: '#888' };
  new Chart(mk(400, 715, W, H), {
    type: 'bar',
    data: {
      labels: hPaths,
      datasets: [
        { type: 'bubble', data: hPaths.map((p, k) => ({ x: hScore[k], y: p, r: size(hCount[k]) })),
          backgroundColor: hP.map(v => ramp(pStops, v)), borderWidth: 0 },
        { type: 'bar', data: hScore, backgroundColor: '#a480c9', barThickness: 1.1 }
      ]
    },
    options: {
      indexAxis: 'y',
      layout: { padding: A.padding },
      scales: {
        x: { type: 'linear', min: -1.33, max: 1.32, afterFit: A.fx, grid, border: { color: '#999' },
             ticks: { stepSize: 0.5, includeBounds: false, font: { size: 4.6 }, color: '#777', padding: 2, callback: v => v.toFixed(1) } },
        y: { type: 'category', labels: hPaths, offset: true, afterFit: A.fy, grid, border: { color: '#999' },
             ticks: { font: { size: 3.9 }, color: '#666', autoSkip: false, padding: 2 } }
      }
    },
    plugins: [boxPlugin('#999'), {
      id: 'hLegend',
      afterDraw(c) {
        const g = c.ctx, a = c.chartArea;
        txt(g, 'Differential Abundance (DA) Score', (a.left + a.right) / 2, 427, { size: 6.8, color: '#333', align: 'center' });
        txt(g, 'P-value', 354, 172, { size: 6.5, color: '#333' });
        gradBar(g, pStops, 355, 178, 12, 57, true, 0, 1);
        pLegendTicks.forEach(t => txt(g, t.toFixed(2), 371, 180 + (1 - t) * 54, { size: 4.6, color: '#555' }));
        txt(g, 'Count', 354, 253, { size: 6.5, color: '#333' });
        hCountLegend.forEach((v, k) => {
          const y = 265 + k * 12;
          dot(g, 361, y, size(v), '#111');
          txt(g, String(v), 371, y, { size: 4.6, color: '#555' });
        });
      }
    }]
  });
})();
</script>
</body>
</html>
